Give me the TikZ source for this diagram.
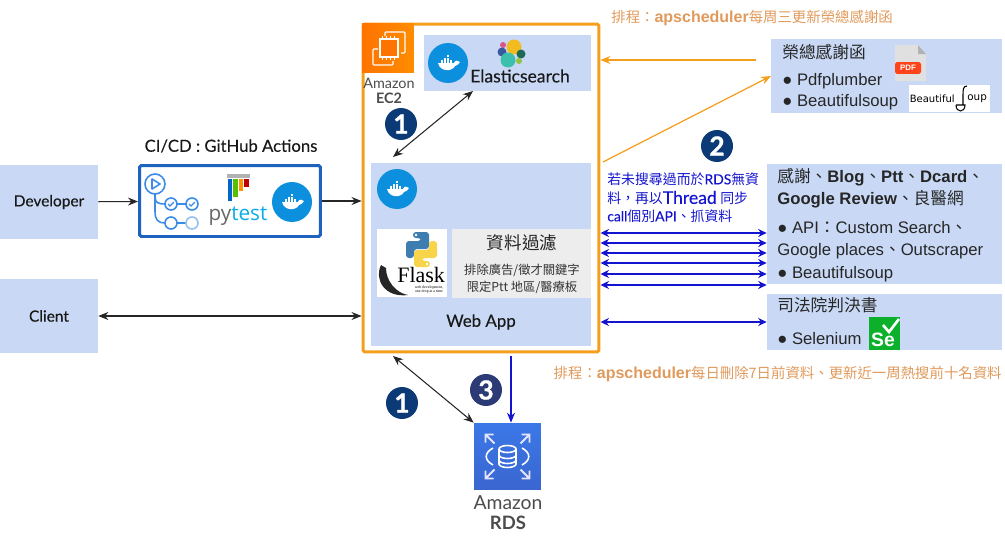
\documentclass[tikz,border=0pt]{standalone}
\usepackage{fontspec}
\usepackage{xcolor}
\usepackage{tikz}
\usetikzlibrary{arrows.meta,calc}
\setmainfont{Liberation Sans}
\newfontfamily\cjk{Noto Sans CJK TC}
\newfontfamily\lato[FakeBold=0.25]{Lato}
\newfontfamily\latoplain{Lato}
\newfontfamily\latoheavy[FakeBold=1]{Lato Bold}
\newfontfamily\opens{Open Sans}
\newcommand{\zh}[1]{{\cjk #1}}
\newcommand{\fsz}[1]{\fontsize{#1}{#1}\selectfont}
\definecolor{tbox}{HTML}{C9D9F5}
\definecolor{torange}{HTML}{F59E1C}
\definecolor{tnote}{HTML}{E09A5C}
\definecolor{tblue}{HTML}{1414D0}
\definecolor{tnavy}{HTML}{0B3A77}
\definecolor{tindigo}{HTML}{2C3A75}
\definecolor{tdocker}{HTML}{0C90DE}
\definecolor{tgit}{HTML}{3B8BE8}
\definecolor{tcicd}{HTML}{1E62C0}
\definecolor{tpink}{HTML}{D8558F}
\definecolor{tyellow}{HTML}{F2BC20}
\definecolor{tslate}{HTML}{3A5AA0}
\definecolor{tforest}{HTML}{1D6A56}
\definecolor{tteal}{HTML}{3DBFAE}
\definecolor{tlime}{HTML}{93C33F}
\definecolor{tpyblue}{HTML}{3E7DB0}
\definecolor{tpyyellow}{HTML}{F7D44A}
\definecolor{tgreen}{HTML}{0CB02B}
\definecolor{trdstop}{HTML}{3B78E7}
\definecolor{trdsbot}{HTML}{3A66D0}
\tikzset{
  dockericon/.pic={
    \fill[tdocker] (0,0) circle[radius=20];
    \fill[white] (-10,0) -- (6,0) .. controls (7,-3) and (10,-3) .. (12,-1) .. controls (11,1.5) and (9,2) .. (7,3) .. controls (4,9) and (-8,9) .. (-10,0) -- cycle;
    \foreach \a/\b in {-7/-2.6,-4/-2.6,-1/-2.6,2/-2.6,-4/-5.4,-1/-5.4,-1/-8.2}
      \fill[white] (\a,\b) rectangle ++(2.4,2.4);
  },
  rdsarrow/.pic={
    \draw[white!90!blue,line width=1.1pt] (13,-13) -- (22,-22) (14,-22) -- (22,-22) -- (22,-14);
  }
}
\begin{document}
\begin{tikzpicture}[x=0.02cm,y=-0.02cm,
  bluebox/.style={fill=tbox, inner sep=0pt},
  ttl/.style={font=\lato\fsz{8.8}, text=black!90, inner sep=0pt},
  awsname/.style={font=\latoplain\fsz{8.2}, text=black!70, inner sep=0pt},
  line/.style={anchor=west, font=\fsz{9.5}, text=black!85, inner sep=0pt},
  note/.style={anchor=west, font=\fsz{8.2}, text=tnote, inner sep=0pt},
  bluenote/.style={anchor=west, font=\lato\fsz{7.9}, text=tblue, inner sep=0pt},
  badge/.style={circle, minimum size=0.64cm, inner sep=0pt, text=white, font=\latoheavy\fsz{15}},
  msg/.style={{Stealth[length=2mm,width=1.6mm]}-{Stealth[length=2mm,width=1.6mm]}, black!85, line width=0.6pt},
  flow/.style={-{Stealth[length=2mm,width=1.6mm]}, black!85, line width=0.6pt},
  call/.style={{Stealth[length=1.7mm,width=1.6mm]}-{Stealth[length=1.7mm,width=1.6mm]}, tblue, line width=0.8pt},
  sched/.style={-{Stealth[length=2mm,width=1.6mm]}, torange, line width=0.7pt}]
\useasboundingbox (0,0) rectangle (1005,541);
% left side
\node[bluebox, minimum width=1.96cm, minimum height=1.48cm] (dev) at (49,202) {};
\node[ttl] (devname) at (49,202) {Developer};
\node[bluebox, minimum width=1.96cm, minimum height=1.5cm] (client) at (49,316) {};
\node[ttl] (clientname) at (49,316) {Client};
\node[draw=tcicd, line width=1.7pt, rounded corners=1pt, minimum width=3.62cm, minimum height=1.42cm, inner sep=0pt] (cicd) at (230,201) {};
\node[ttl, font=\lato\fsz{9.5}] (cicdname) at (231,146) {CI/CD : GitHub Actions};
% github actions mark
\draw[tgit, line width=0.9pt] (155,184) circle[radius=10] (155,194) -- (155,211) .. controls (155,220) and (158,223) .. (165,223) (155,197) .. controls (155,203) and (159,204) .. (165,204) (177,204) -- (186,204) (177,223) -- (186,223);
\draw[tgit, line width=0.9pt, line join=round] (152,179) -- (160,184) -- (152,189) -- cycle;
\draw[tgit, line width=0.9pt] (171,204) circle[radius=6] (192,204) circle[radius=6] (171,223) circle[radius=6];
\draw[tgit!55, line width=0.9pt] (192,223) circle[radius=6];
\draw[tgit, line width=0.8pt] (168,204) -- (170,206) -- (174,202) (189,204) -- (191,206) -- (195,202);
% pytest mark
\fill[gray!60] (227,174) rectangle (250,178);
\fill[blue!50!cyan!80!black] (228,179) rectangle (232,201);
\fill[green!55!yellow!75!black] (233,179) rectangle (238,197);
\fill[orange!85!yellow] (239,179) rectangle (243,191);
\fill[red!75!black] (244,179) rectangle (249,187);
\node[inner sep=0pt, font=\opens\fsz{11.8}] (pytestname) at (238,216) {\textcolor{gray!80!black}{py}\textcolor{tdocker!75!cyan}{test}};
\pic at (292,202) {dockericon};
\draw[flow] (dev) -- (cicd);
% ec2 frame
\node[draw=torange, line width=1.7pt, rounded corners=1pt, minimum width=4.72cm, minimum height=6.56cm, inner sep=0pt] (ec2box) at (481,188) {};
\node[left color=orange!90!red, right color=orange!90!yellow, minimum width=1.04cm, minimum height=1cm, inner sep=0pt] (ec2icon) at (388,48) {};
\draw[white, line width=0.6pt, rounded corners=0.5pt] (385,36) -- (385,32) -- (405,32) -- (405,53) -- (401,53) (378,49) -- (373,49) -- (373,65) -- (393,65) -- (393,61);
\fill[orange!90!red] (379,38) rectangle (399,58);
\draw[white, line width=0.8pt] (380,39) rectangle (398,57);
\foreach \p in {382,386,390,394} {
  \draw[white, line width=0.4pt] (\p,36) -- (\p,39) (\p,57) -- (\p,60) (378,\p+1-2) -- (380,\p+1-2) (398,\p+1-2) -- (400,\p+1-2);
}
\node[awsname] (ec2a) at (389,83) {Amazon};
\node[awsname, font=\latoplain\bfseries\fsz{8.2}] (ec2b) at (389,98) {EC2};
% elasticsearch
\node[bluebox, minimum width=3.34cm, minimum height=1.12cm] (es) at (507.5,63) {};
\pic at (448,63) {dockericon};
\fill[tpink] (503,45) circle[radius=3];
\fill[tyellow] (514,47) circle[radius=7.5];
\fill[tslate] (502,52) circle[radius=4.5];
\fill[tforest] (521,54) circle[radius=4.5];
\fill[tteal] (508,60) circle[radius=7.5];
\fill[tlime] (519,61) circle[radius=3];
\node[ttl, font=\lato\fsz{10}] (esname) at (520,76) {Elasticsearch};
\node[badge, fill=tnavy] (oneA) at (401,124) {1};
% web app
\node[bluebox, minimum width=4.4cm, minimum height=3.66cm] (web) at (481,254.5) {};
\pic at (397,189) {dockericon};
\node[fill=white, minimum width=1.4cm, minimum height=1.36cm, inner sep=0pt] (flaskbox) at (412,263) {};
\fill[tpyblue, rounded corners=0.06cm] (413,232) -- (429,232) -- (429,249) -- (414,249) -- (414,258) -- (406,258) -- (406,241) -- (421,241) -- (421,238) -- (413,238) -- cycle;
\fill[tpyyellow, rounded corners=0.06cm] (430,267) -- (414,267) -- (414,250) -- (429,250) -- (429,241) -- (437,241) -- (437,258) -- (422,258) -- (422,261) -- (430,261) -- cycle;
\fill[white] (416,235) circle[radius=1.3] (427,264) circle[radius=1.3];
\fill[black!85] (381,265) .. controls (374,280) and (385,298) .. (408,295) .. controls (396,293) and (386,281) .. (386,268) -- cycle;
\node[anchor=west, inner sep=0pt, font=\fontspec{Liberation Serif}\fsz{12.5}] (flasktext) at (397,275) {Flask};
\node[inner sep=0pt, align=center, font=\fontspec{Liberation Serif}\fsz{2.2}] (flasksub) at (429,290) {web development,\\one drop at a time};
\node[fill=black!7, minimum width=2.78cm, minimum height=1.38cm, inner sep=0pt] (filter) at (521.5,263.5) {};
\node[inner sep=0pt, font=\cjk\fsz{10}, text=black!85] (filtera) at (522,243) {資料過濾};
\node[inner sep=0pt, font=\cjk\fsz{7}, text=black!80] (filterb) at (522,270) {排除廣告/徵才關鍵字};
\node[inner sep=0pt, font=\cjk\fsz{7}, text=black!80] (filterc) at (522,287) {限定Ptt 地區/醫療板};
\node[ttl, font=\lato\fsz{9.6}] (webname) at (481,322) {Web App};
\draw[flow] (cicd) -- (ec2box.west |- cicd);
\draw[msg] (client.east) -- (ec2box.west |- client);
\coordinate (esend) at (473,91);
\coordinate (webtop) at (393,157);
\draw[msg] (esend) -- (webtop);
% right side
\node[note] (schedtop) at (611,18) {\zh{排程：}\textbf{\fsz{9.1}apscheduler}\zh{每周三更新榮總感謝函}};
\node[bluebox, minimum width=4.62cm, minimum height=1.48cm] (thanks) at (886.5,76) {};
\node[line] (thanksa) at (782,52) {\zh{榮總感謝函}};
\node[line] (thanksb) at (782,81) {● Pdfplumber};
\node[line] (thanksc) at (782,102) {● Beautifulsoup};
\fill[black!12] (895,45) -- (918,45) -- (926,54) -- (926,81) -- (895,81) -- cycle;
\fill[black!30] (918,45) -- (926,54) -- (918,54) -- cycle;
\node[fill=red!65!orange!90!white, rounded corners=1pt, minimum width=0.52cm, minimum height=0.24cm, inner sep=0pt, text=white, font=\bfseries\fsz{4.5}] (pdfmark) at (908,68) {PDF};
\node[fill=white, minimum width=1.62cm, minimum height=0.54cm, inner sep=0pt] (bsbox) at (949.5,98.5) {};
\node[anchor=east, inner sep=0pt, font=\fontspec{DejaVu Sans}\fsz{5.7}] (bsa) at (955,99) {Beautiful};
\node[anchor=west, inner sep=0pt, font=\fontspec{DejaVu Sans}\fsz{5.9}] (bsb) at (967,99) {oup};
\draw[black, line width=0.6pt] (967,86) .. controls (963,86) and (963,90) .. (963,95) -- (963,105) (956,105) .. controls (956,113) and (965,113) .. (965,105) -- (956,105);
\coordinate (thanksback) at (756,60);
\draw[sched] (thanksback) -- (ec2box.east |- thanksback);
\coordinate (ec2out) at (603,162);
\coordinate (thanksin) at (771,76);
\draw[sched] (ec2out) -- (thanksin);
\node[badge, fill=tnavy] (two) at (717,146) {2};
\node[bluenote] (calla) at (607,179) {\zh{若未搜尋過而於}RDS\zh{無資}};
\node[bluenote] (callb) at (607,198) {\zh{料，再以}{\fsz{10}Thread} \zh{同步}};
\node[bluenote] (callc) at (607,216) {call\zh{個別}API\zh{、抓資料}};
\node[bluebox, minimum width=4.7cm, minimum height=2.4cm] (review) at (884.5,224) {};
\node[line] (reviewa) at (777,177) {\zh{感謝、}\textbf{Blog}\zh{、}\textbf{Ptt}\zh{、}\textbf{Dcard}\zh{、}};
\node[line] (reviewb) at (777,199) {\textbf{Google Review}\zh{、良醫網}};
\node[line] (reviewc) at (777,228) {● API\zh{：}Custom Search\zh{、}};
\node[line] (reviewd) at (777,251) {Google places\zh{、}Outscraper};
\node[line] (reviewe) at (777,274) {● Beautifulsoup};
\foreach \y in {233,243,253,263,274,285} \draw[call] (ec2box.east |- 0,\y) -- (review.west |- 0,\y);
\node[bluebox, minimum width=4.7cm, minimum height=1.12cm] (court) at (884.5,322) {};
\node[line] (courta) at (777,305) {\zh{司法院判決書}};
\node[line] (courtb) at (777,339) {● Selenium};
\node[fill=tgreen, minimum width=0.62cm, minimum height=0.66cm, inner sep=0pt] (semark) at (884,333.5) {};
\draw[white, line width=1.5pt] (883,325) -- (889,332) -- (899,319);
\node[inner sep=0pt, text=white, font=\bfseries\fsz{11}] (setext) at (883,340) {Se};
\draw[call] (ec2box.east |- court) -- (court.west);
\node[note, anchor=east] (schedlow) at (1002,374) {\zh{排程：}\textbf{\fsz{9.1}apscheduler}\zh{每日刪除7日前資料、更新近一周熱搜前十名資料}};
% rds
\node[top color=trdstop, bottom color=trdsbot, minimum width=1.34cm, minimum height=1.34cm, inner sep=0pt] (rds) at (507.5,456.5) {};
\foreach \r in {0,90,180,270} \pic[rotate=\r] at (507.5,456.5) {rdsarrow};
\draw[white, line width=0.9pt] (499,449) -- (499,464) arc[start angle=180, end angle=360, x radius=8.5, y radius=-3.5] -- (516,449) (499,449) arc[start angle=180, end angle=540, x radius=8.5, y radius=3.5] (499,455) arc[start angle=180, end angle=360, x radius=8.5, y radius=-3.5] (499,460) arc[start angle=180, end angle=360, x radius=8.5, y radius=-3.5];
\draw[white, line width=0.9pt] (493,448) .. controls (484,453) and (484,460) .. (493,465) (522,448) .. controls (531,453) and (531,460) .. (522,465);
\node[awsname, font=\latoplain\fsz{11}] (rdsa) at (508,503) {Amazon};
\node[awsname, font=\latoplain\bfseries\fsz{10.5}] (rdsb) at (508,523) {RDS};
\coordinate (framelow) at (393,356);
\coordinate (framedown) at (511,356);
\draw[msg] (framelow) -- (rds.north west);
\draw[-{Stealth[length=2mm,width=1.6mm]}, tblue, line width=0.6pt] (framedown) -- (rds.north -| framedown);
\node[badge, fill=tnavy] (oneB) at (402,403) {1};
\node[badge, fill=tindigo] (three) at (486,390) {3};
\end{tikzpicture}
\end{document}
